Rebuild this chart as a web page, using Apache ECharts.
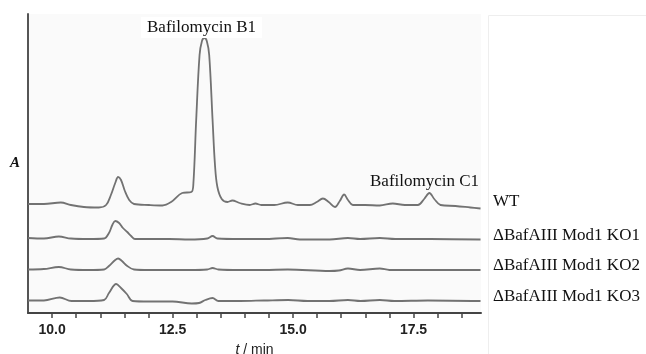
<!DOCTYPE html>
<html>
<head>
<meta charset="utf-8">
<script src="https://cdn.jsdelivr.net/npm/echarts@6/dist/echarts.min.js"></script>
<style>
  html, body { margin: 0; padding: 0; background: #fff; }
  #chart { width: 646px; height: 354px; }
</style>
</head>
<body>
<div id="chart"></div>
<script>
// retention time (min) and signal (relative to each trace's own baseline)
const traceNames = ["WT", "\u0394BafAIII Mod1 KO1", "\u0394BafAIII Mod1 KO2", "\u0394BafAIII Mod1 KO3"];

const wtTime = [9.5, 9.83, 10.18, 10.39, 10.66, 10.97, 11.12, 11.22, 11.31, 11.37, 11.43, 11.51, 11.6, 11.7,
  12.01, 12.29, 12.47, 12.7, 12.89, 12.93, 12.99, 13.06, 13.11, 13.16, 13.21, 13.26, 13.33, 13.38, 13.43, 13.52,
  13.64, 13.74, 13.89, 14.1, 14.22, 14.34, 14.61, 14.89, 15.1, 15.35, 15.49, 15.62, 15.74, 15.87, 15.97, 16.06,
  16.14, 16.24, 16.49, 16.8, 17.07, 17.32, 17.59, 17.72, 17.83, 17.93, 18.06, 18.37, 18.68, 18.89];
const wtSignal = [1, 1, 2.5, 0, -2, -2.5, 0, 10, 22, 28, 25, 14, 5, 1,
  0, -0.5, 3, 12, 13, 20, 85, 150, 164, 167, 164, 150, 85, 40, 18, 6,
  3, 4.5, 2, 0, 1.5, 0, 0, 2.5, 0, 0, 3, 6.5, 3, -2, 4, 10.5,
  5, 0, 0, -0.5, 1.5, 0, 0, 6, 12, 6, 0, -1, -2.5, -3.5];

const ko1Time = [9.5, 9.83, 10.14, 10.39, 10.76, 11.08, 11.18, 11.25, 11.31, 11.39, 11.47, 11.56, 11.64, 11.72,
  12.01, 12.43, 12.85, 13.22, 13.33, 13.43, 13.89, 14.4, 14.89, 15.14, 15.76, 16.14, 16.39, 16.8, 17.12, 17.85, 18.89];
const ko1Signal = [1, 0.5, 2.5, 0.5, 0, 0.5, 6, 14, 18, 16, 11, 7, 3, 0,
  0, 0, -0.5, 0.5, 3, 0.5, 0, 0, 1, -0.5, -0.5, 1, 0, 1, 0, 0, -0.5];

const ko2Time = [9.5, 9.83, 10.14, 10.39, 10.76, 11.08, 11.18, 11.31, 11.37, 11.45, 11.56, 11.7,
  12.01, 12.43, 12.85, 13.22, 13.33, 13.45, 13.89, 14.4, 14.89, 15.76, 15.95, 16.14, 16.39, 16.8, 17.0, 18.89];
const ko2Signal = [0.5, 1, 3, 0.5, 0, 0.5, 4, 10, 11.5, 9, 4, 0.5,
  0, 0, 0, 0.5, 2, 0.5, 0, 0, 0.5, -1, -0.5, 1.5, 0, 1.5, 0, 0];

const ko3Time = [9.5, 9.83, 10.16, 10.4, 10.76, 11.08, 11.18, 11.33, 11.43, 11.55, 11.67,
  12.01, 12.5, 12.9, 13.05, 13.18, 13.33, 13.45, 13.9, 14.4, 14.9, 15.3, 15.76, 16.14, 16.4, 16.8, 17.1, 17.8, 18.89];
const ko3Signal = [0.5, 0.5, 3.5, 0, 0, 1, 8, 17, 13, 7, 0,
  -0.5, -0.5, -2.5, -2, 1, 3, 0, 0, 0.5, 1, 0, 0, 1, 0, 1, 0, 0.5, 0];

const tickValues = [10, 10.5, 11, 11.5, 12, 12.5, 13, 13.5, 14, 14.5, 15, 15.5, 16, 16.5, 17, 17.5, 18, 18.5];
const labelValues = [10, 12.5, 15, 17.5];

const times = [wtTime, ko1Time, ko2Time, ko3Time];
const signals = [wtSignal, ko1Signal, ko2Signal, ko3Signal];
// vertical stacking of the traces (in axis units)
const baseLines = [108, 74, 43, 12];

const chart = echarts.init(document.getElementById("chart"));

const series = traceNames.map((name, i) => ({
  name: name,
  type: "line",
  data: times[i].map((t, j) => [t, signals[i][j] + baseLines[i]]),
  showSymbol: false,
  smooth: 0.35,
  lineStyle: { color: "#727272", width: 1.8 },
  silent: true
}));

const serif = "'Liberation Serif', 'Times New Roman', serif";
const sans = "'Liberation Sans', Arial, sans-serif";
const legendY = [203, 237, 267, 298];

chart.setOption({
  animation: false,
  backgroundColor: "#fff",
  grid: {
    left: 28, right: 165, top: 14, bottom: 41,
    outerBoundsMode: "none",
    show: true, backgroundColor: "#fafafa", borderWidth: 0
  },
  xAxis: {
    type: "value",
    min: 9.5,
    max: 18.9,
    name: "{i|t} / min",
    nameLocation: "middle",
    nameGap: 30,
    nameTextStyle: {
      fontFamily: sans,
      fontSize: 14,
      color: "#222",
      rich: { i: { fontStyle: "italic", fontSize: 14, color: "#222", fontFamily: sans } }
    },
    axisLine: { onZero: false, lineStyle: { color: "#444", width: 2 } },
    axisTick: { customValues: tickValues, length: 5, lineStyle: { color: "#444", width: 1.5 } },
    axisLabel: {
      customValues: labelValues,
      formatter: v => v.toFixed(1),
      margin: 10,
      fontFamily: sans,
      fontSize: 14,
      fontWeight: "bold",
      color: "#222"
    },
    splitLine: { show: false }
  },
  yAxis: {
    type: "value",
    min: 0,
    max: 299,
    name: "A",
    nameLocation: "middle",
    nameRotate: 0,
    nameGap: 8,
    nameTextStyle: { fontFamily: serif, fontStyle: "italic", fontWeight: "bold", fontSize: 15, color: "#111" },
    axisLine: { show: true, lineStyle: { color: "#555", width: 2 } },
    axisTick: { show: false },
    axisLabel: { show: false },
    splitLine: { show: false }
  },
  series: series,
  graphic: [
    {
      type: "rect",
      left: 488, top: 15,
      shape: { width: 170, height: 345 },
      style: { fill: "#fff", stroke: "#eee", lineWidth: 1 },
      z: 0
    },
    {
      type: "text",
      left: 141, top: 17,
      style: { text: "Bafilomycin B1", font: "17px " + serif, fill: "#111", backgroundColor: "#fff", padding: [2, 6] },
      z: 10
    },
    {
      type: "text",
      left: 370, top: 173,
      style: { text: "Bafilomycin C1", font: "17px " + serif, fill: "#111" },
      z: 10
    }
  ].concat(traceNames.map((n, i) => ({
    type: "text",
    left: 493,
    top: legendY[i] - 10,
    style: { text: n, font: "17px " + serif, fill: "#111" },
    z: 10
  })))
});
</script>
</body>
</html>
